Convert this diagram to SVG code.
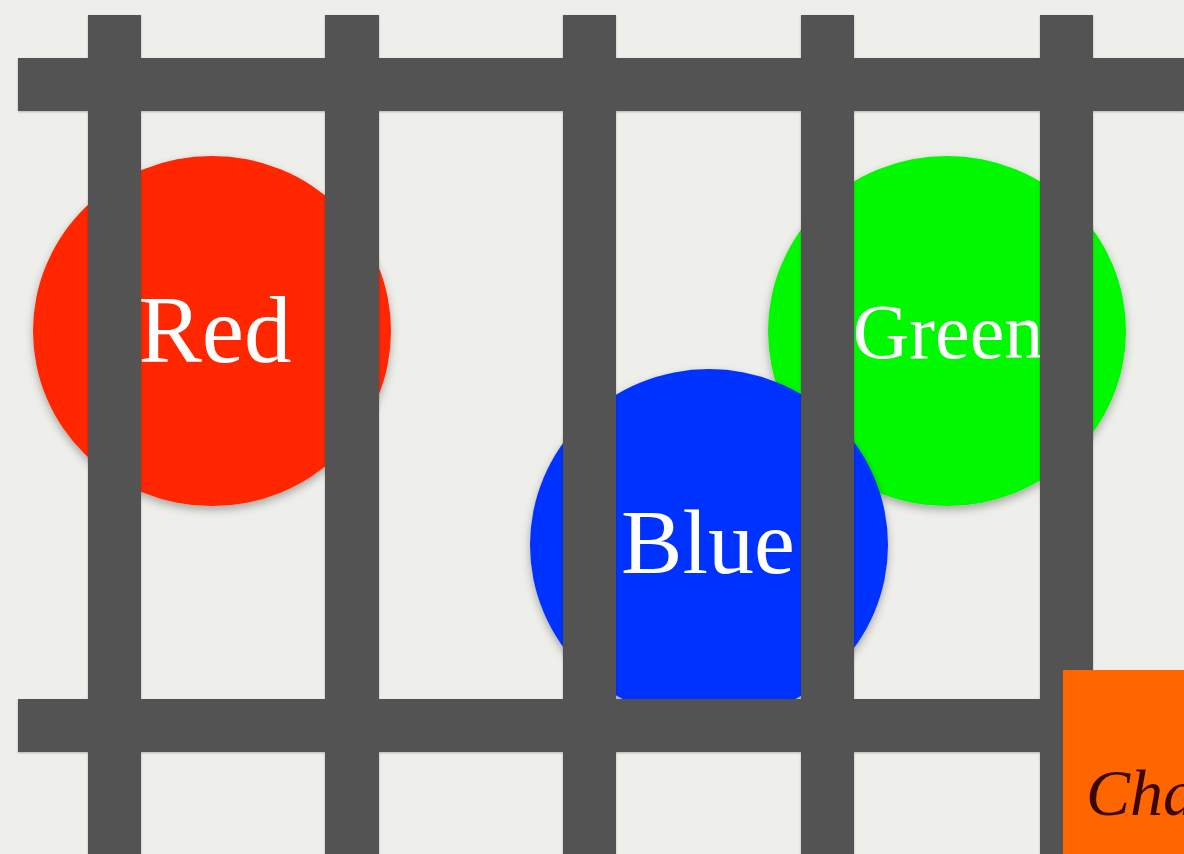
<svg xmlns="http://www.w3.org/2000/svg" width="1184" height="854" viewBox="0 0 1184 854">
<defs>
<filter id="sh" x="-20%" y="-20%" width="140%" height="140%">
<feDropShadow dx="0" dy="4" stdDeviation="4" flood-color="#000" flood-opacity="0.3"/>
</filter>
<filter id="bs" x="-5%" y="-5%" width="110%" height="110%">
<feDropShadow dx="0" dy="1" stdDeviation="1" flood-color="#000" flood-opacity="0.25"/>
</filter>
</defs>
<style>
.bar{fill:#535353}
.lbl{font-family:"Liberation Serif","DejaVu Serif",serif;fill:#ffffff;text-anchor:middle}
</style>
<rect x="0" y="0" width="1184" height="854" fill="#eeeeea"/>
<g id="red">
<ellipse cx="212" cy="331" rx="179" ry="175" fill="#ff2600" filter="url(#sh)"/>
</g>
<g id="green">
<ellipse cx="947" cy="331" rx="179" ry="175" fill="#00f900" filter="url(#sh)"/>
</g>
<g id="blue">
<ellipse cx="709" cy="545" rx="179" ry="176" fill="#0433ff" filter="url(#sh)"/>
</g>
<g id="labels">
<text class="lbl" x="215" y="362" font-size="95">Red</text>
<text class="lbl" x="948" y="358" font-size="78">Green</text>
<text class="lbl" x="708" y="573" font-size="92">Blue</text>
</g>
<g id="grid" filter="url(#bs)">
<rect class="bar" x="18" y="58" width="1166" height="53"/>
<rect class="bar" x="18" y="699" width="1166" height="53"/>
<rect class="bar" x="88" y="15" width="53" height="839"/>
<rect class="bar" x="325" y="15" width="54" height="839"/>
<rect class="bar" x="563" y="15" width="53" height="839"/>
<rect class="bar" x="801" y="15" width="53" height="839"/>
<rect class="bar" x="1040" y="15" width="53" height="839"/>
</g>
<g id="chart">
<rect x="1063" y="670" width="121" height="184" fill="#ff6600"/>
<text x="1086" y="815" font-family="Liberation Serif, serif" font-style="italic" font-size="66" fill="#3a0800">Cha</text>
</g>
</svg>
